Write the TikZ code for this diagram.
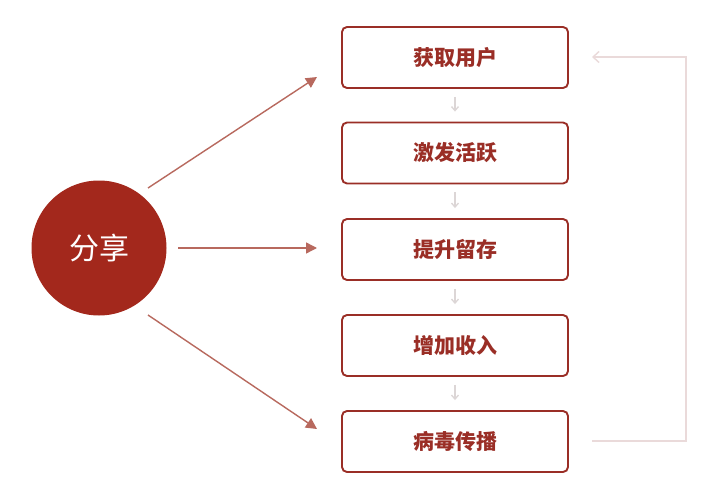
\documentclass[tikz,border=0pt]{standalone}
\usepackage{fontspec}
\newfontfamily\cjk{Noto Sans CJK SC}
\usetikzlibrary{arrows.meta}
\definecolor{circred}{HTML}{A3281C}
\definecolor{boxred}{HTML}{9A2E26}
\definecolor{arrred}{HTML}{B8695E}
\definecolor{smallg}{HTML}{DCD6D6}
\definecolor{backc}{HTML}{EADADA}
\tikzset{
  stepbox/.style={draw=boxred, line width=1.9pt, rounded corners=5pt, minimum width=226pt, minimum height=61pt, inner sep=0pt, font=\cjk\bfseries\fontsize{21}{21}\selectfont, text=boxred, fill=white},
  bigarr/.style={draw=arrred, line width=1.4pt, -{Triangle[length=11pt,width=11pt]}},
  smallarr/.style={draw=smallg, line width=1.3pt, -{Straight Barb[length=4pt,width=7pt]}},
  backarr/.style={draw=backc, line width=1.4pt, -{Straight Barb[length=6pt,width=11pt]}},
}
\begin{document}
\begin{tikzpicture}[x=1pt,y=-1pt]
\useasboundingbox[fill=white] (0,0) rectangle (714,500);
\node[circle, fill=circred, minimum size=135pt, inner sep=0pt, text=white, font=\cjk\fontsize{30}{30}\selectfont] (c) at (99,248) {分享};
\node[stepbox] (b1) at (455,57.5) {获取用户};
\node[stepbox] (b2) at (455,153) {激发活跃};
\node[stepbox] (b3) at (455,249.5) {提升留存};
\node[stepbox] (b4) at (455,345.5) {增加收入};
\node[stepbox] (b5) at (455,441.5) {病毒传播};
\coordinate (t1s) at (148,188);
\coordinate (t1e) at (317,77);
\coordinate (t2s) at (178,248);
\coordinate (t2e) at (317,248);
\coordinate (t3s) at (148,315);
\coordinate (t3e) at (317,429);
\draw[bigarr] (t1s) -- (t1e);
\draw[bigarr] (t2s) -- (t2e);
\draw[bigarr] (t3s) -- (t3e);
\foreach \a/\b in {b1/b2,b2/b3,b3/b4,b4/b5}{
  \draw[smallarr] ([yshift=-8pt]\a.south) -- ([yshift=10pt]\b.north);
}
\coordinate (r1) at (592,441);
\coordinate (r2) at (686,441);
\coordinate (r3) at (686,57);
\coordinate (r4) at (592,57);
\draw[backarr] (r1) -- (r2) -- (r3) -- (r4);
\end{tikzpicture}
\end{document}
